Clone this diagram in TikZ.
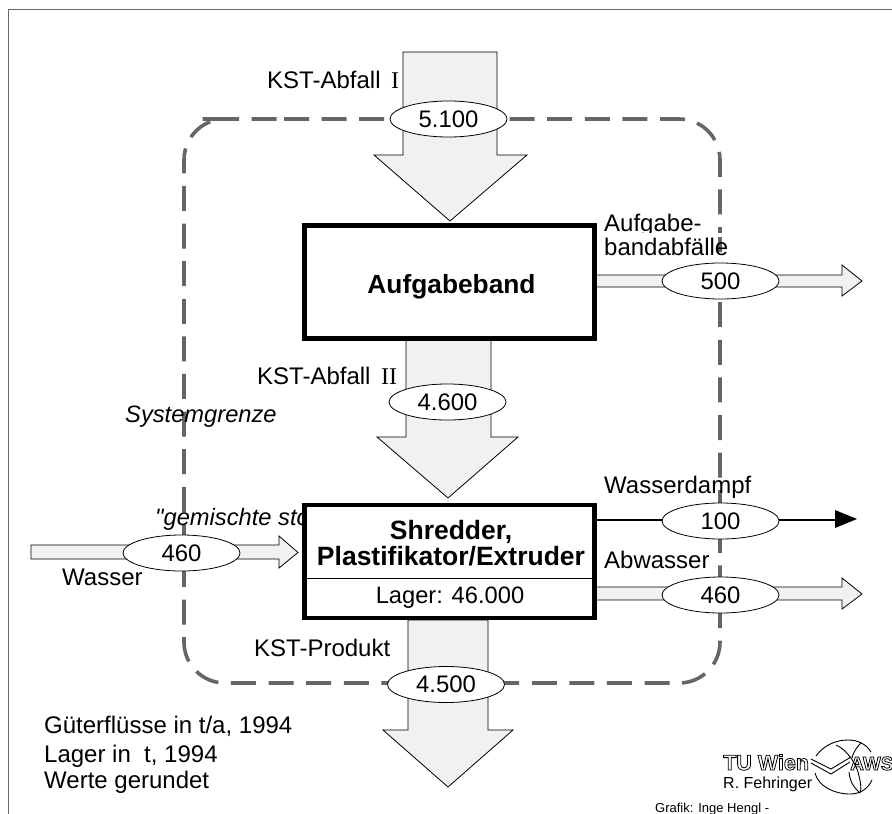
\documentclass[tikz,border=0pt]{standalone}
\usepackage{fontspec}
\setmainfont{Liberation Sans}
\newfontfamily\serifrm{Liberation Serif}
\newfontfamily\plainsans{Liberation Sans}
\usetikzlibrary{shapes.geometric}
\definecolor{flowfill}{gray}{0.945}
\definecolor{bordergray}{gray}{0.4}
\tikzset{
 x=1pt,y=-1pt,
 flow/.style={draw=black,fill=flowfill,line width=0.8pt},
 val/.style={draw=black,fill=white,ellipse,line width=0.8pt,minimum width=117pt,minimum height=36pt,inner sep=0pt,font=\fontsize{23.9}{24}\selectfont},
 lbl/.style={inner sep=0pt,anchor=base west,font=\fontsize{24}{26}\selectfont},
 lblrm/.style={inner sep=0pt,anchor=base west,font=\serifrm\fontsize{24}{26}\selectfont},
 lblit/.style={inner sep=0pt,anchor=base west,font=\plainsans\itshape\fontsize{23.7}{26}\selectfont},
 box/.style={draw=black,line width=4.5pt,minimum width=290pt,inner sep=0pt},
 logoline/.style={line width=0.9pt},
}
\newcommand{\outl}[1]{\special{pdf:code 1 Tr 0.8 w}#1\special{pdf:code 0 Tr}}
\begin{document}
\begin{tikzpicture}
\useasboundingbox (0,0) rectangle (892,814);
% frame
\draw[bordergray,line width=1pt] (8,814) -- (8,9.5) -- (892,9.5);
% system boundary
\draw[bordergray,line width=3.6pt,dash pattern=on 25pt off 12.6pt,rounded corners=41pt] (243,119) -- (720,119) -- (720,683) -- (184,683) -- (184,119) -- cycle;
% labels behind the boxes
\node[lblit] (sys) at (125,422) {Systemgrenze};
\node[lblit] (gem) at (155,525) {"gemischte sto};
% flows
\draw[flow] (403,52) -- (497,52) -- (497,155) -- (527,155) -- (450,221) -- (374,155) -- (403,155) -- cycle;
\draw[flow] (406,340) -- (491,340) -- (491,437) -- (518,437) -- (448,498) -- (377,437) -- (406,437) -- cycle;
\draw[flow] (408,620) -- (488,620) -- (488,730) -- (513,730) -- (448,787) -- (383,730) -- (408,730) -- cycle;
\draw[flow] (31,545) -- (279,545) -- (279,536) -- (298,552.5) -- (279,568) -- (279,559) -- (31,559) -- cycle;
\draw[flow] (596,275) -- (842,275) -- (842,265) -- (862,281) -- (842,296) -- (842,287) -- (596,287) -- cycle;
\draw[flow] (596,587) -- (842,587) -- (842,578) -- (862,594) -- (842,609) -- (842,600) -- (596,600) -- cycle;
\draw[line width=1.6pt] (596,520) -- (840,520);
\fill (835,510) -- (857,519) -- (835,528) -- cycle;
% boxes
\node[box,fill=white,minimum height=113pt] (a) at (449.5,282) {};
\node[inner sep=0pt,anchor=base,font=\fontsize{26.3}{28}\selectfont\bfseries] (at) at (451.5,293) {Aufgabeband};
\node[box,fill=white,minimum height=113pt] (s) at (449.5,561.5) {};
\draw[line width=0.8pt] (s.west |- 0,578) -- (s.east |- 0,578);
\node[font=\fontsize{26.5}{26}\selectfont\bfseries,align=center] (st) at (451,543) {Shredder,\\Plastifikator/Extruder};
\node[inner sep=0pt,anchor=base,font=\fontsize{23.7}{26}\selectfont] (lg) at (450,603) {Lager: 46.000};
% labels
\node[lbl] (l1) at (267,88) {KST-Abfall};
\node[lblrm] (l1b) at (391,88) {I};
\node[lbl] (l2) at (257,384) {KST-Abfall};
\node[lblrm] (l2b) at (381,384) {II};
\node[lbl] (wa) at (62,585) {Wasser};
\node[lbl] (ab) at (604,231) {Aufgabe-};
\fill[white] (603,233) rectangle (728,237);
\node[lbl] (ab2) at (604,255) {bandabfälle};
\node[lbl] (wd) at (604,493) {Wasserdampf};
\node[lbl] (wd0) at (604,568) {Abwasser};
\node[lbl] (kp) at (254,656) {KST-Produkt};
\node[lbl] (t1) at (44,733) {Güterflüsse in t/a, 1994};
\node[lbl] (t2) at (44,762) {Lager in\ \ t, 1994};
\node[lbl] (t3) at (44,788) {Werte gerundet};
% values
\node[val] (v1) at (448.5,119) {5.100};
\node[val] (v2) at (447.5,402) {4.600};
\node[val] (v3) at (446,684.5) {4.500};
\node[val] (v4) at (181.5,553) {460};
\node[val] (v5) at (720.5,281) {500};
\node[val] (v6) at (720.5,521) {100};
\node[val] (v7) at (720.5,595) {460};
% logo
\node[inner sep=0pt,anchor=base west,font=\bfseries\fontsize{21.5}{22}\selectfont] (tu) at (723,770) {\outl{TU Wien}};
\node[inner sep=0pt,anchor=base west,font=\bfseries\fontsize{19}{20}\selectfont] (aws) at (850,770) {\outl{AWS}};
\node[inner sep=0pt,anchor=base west,font=\fontsize{16}{18}\selectfont] (rf) at (723,788) {R. Fehringer};
\node[inner sep=0pt,anchor=base west,font=\fontsize{13}{14}\selectfont] (gr) at (655,812) {Grafik: Inge Hengl -};
\draw[logoline] (816,756) .. controls (824,745) and (836,740) .. (848,740) .. controls (858,740) and (866,744) .. (871,752);
\draw[logoline] (815,773) .. controls (818,786) and (834,794) .. (850,794) .. controls (860,794) and (868,789) .. (872,780);
\draw[logoline] (852,758) .. controls (854,750) and (858,746) .. (861,743);
\draw[logoline] (849,772) .. controls (850,782) and (854,788) .. (860,793);
\draw[logoline] (836,745) .. controls (848,750) and (856,765) .. (858,772) .. controls (860,780) and (862,788) .. (860,793);
\draw[logoline] (811,759) -- (831,769) -- (851,757);
\draw[logoline] (811,763) -- (831,774) -- (850,762);
\end{tikzpicture}
\end{document}
